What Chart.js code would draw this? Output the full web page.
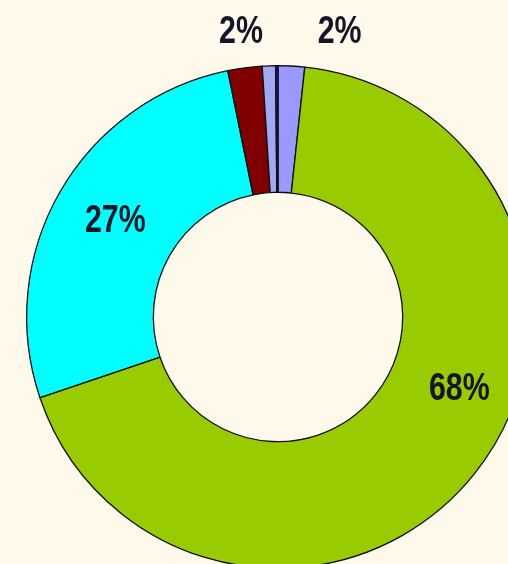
<!DOCTYPE html>
<html>
<head>
<meta charset="utf-8">
<script src="https://cdn.jsdelivr.net/npm/chart.js@4"></script>
<style>
  html, body { margin: 0; padding: 0; background: #FFF9EB; width: 508px; height: 564px; overflow: hidden; }
  #wrap { position: absolute; left: 0; top: 0; width: 560px; height: 600px; }
</style>
</head>
<body>
<div id="wrap"><canvas id="c" width="560" height="600"></canvas></div>
<script>
// Data (clockwise from 12 o'clock)
const categories = ["Series E", "Series A", "Series B", "Series C", "Series D", "Series F"];
const values = [1.7, 68.1, 27.0, 2.2, 0.85, 0.15];
const labelTexts = ["2%", "68%", "27%", "2%", "", ""];
const colors = ["#9999FF", "#99CC00", "#00FFFF", "#800000", "#A3A8F5", "#1A1A8C"];

// Label placement relative to each arc: angle shift (deg) and radius as fraction of outer radius
const labelAngleShift = [9.1, -17.5, 1.0, 0.2, 0, 0];
const labelRadius = [1.165, 0.774, 0.754, 1.149, 0, 0];

const labelPlugin = {
  id: 'sliceLabels',
  afterDatasetsDraw(chart) {
    const ctx = chart.ctx;
    const meta = chart.getDatasetMeta(0);
    ctx.save();
    ctx.fillStyle = '#15152a';
    ctx.font = 'bold 38px "Liberation Sans", Arial, sans-serif';
    ctx.textAlign = 'center';
    ctx.textBaseline = 'middle';
    meta.data.forEach((arc, i) => {
      const t = labelTexts[i];
      if (!t) return;
      const p = arc.getProps(['x', 'y', 'startAngle', 'endAngle', 'outerRadius'], true);
      const a = (p.startAngle + p.endAngle) / 2 + labelAngleShift[i] * Math.PI / 180;
      const r = p.outerRadius * labelRadius[i];
      const x = p.x + r * Math.cos(a);
      const y = p.y + r * Math.sin(a);
      ctx.save();
      ctx.translate(x, y);
      ctx.scale(0.8, 1);
      ctx.fillText(t, 0, 2);
      ctx.restore();
    });
    ctx.restore();
  }
};

new Chart(document.getElementById('c'), {
  type: 'doughnut',
  data: {
    labels: categories,
    datasets: [{
      data: values,
      backgroundColor: colors,
      borderColor: '#101010',
      borderWidth: 1.3,
      hoverOffset: 0
    }]
  },
  options: {
    responsive: false,
    animation: false,
    devicePixelRatio: 1,
    cutout: '49.6%',
    rotation: 0,
    layout: { padding: { left: 26, top: 65, right: 30, bottom: 31 } },
    plugins: {
      legend: { display: false },
      tooltip: { enabled: false }
    }
  },
  plugins: [labelPlugin]
});
</script>
</body>
</html>
